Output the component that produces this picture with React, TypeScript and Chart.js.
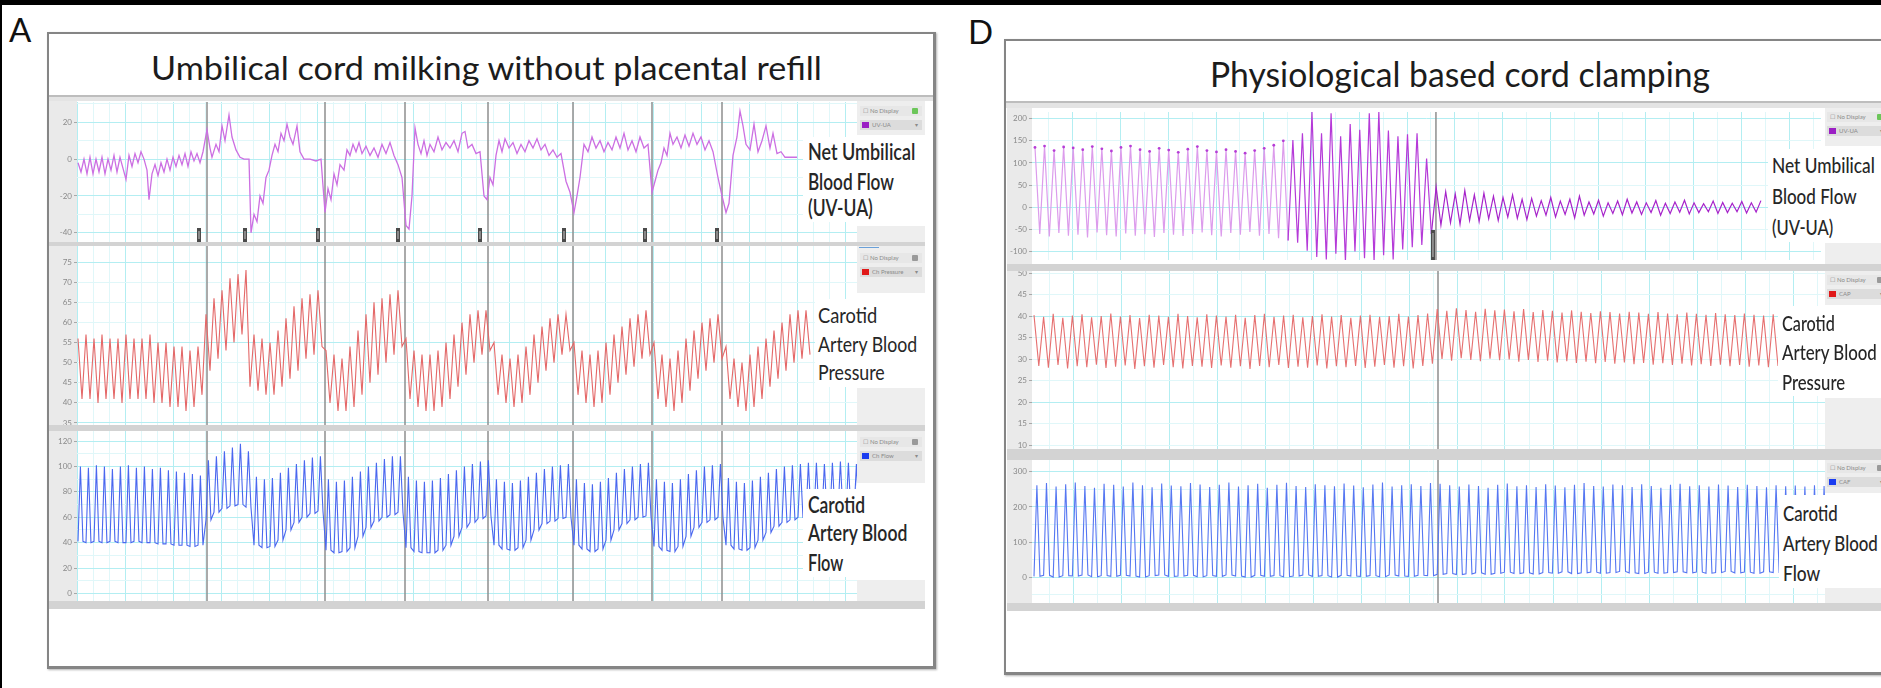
import React, { useEffect, useLayoutEffect, useRef } from "react";
import { Chart, registerables } from "chart.js";

Chart.register(...registerables);

const FONT = "Lato, 'Open Sans', 'Noto Sans', 'DejaVu Sans', sans-serif";

/* ================= Panel A : Umbilical cord milking without placental refill ================= */
// time axis in samples (16 samples = 1 s)
const spanA = 780;
const gridStepA = 16;
const beatStartA = 1;
const beatLenA = 8;

const uvuaTimesA = [
  1, 4, 7, 10, 13, 16, 19, 22, 25, 28, 31, 34, 37, 40, 43, 46, 49, 52, 55, 58,
  61, 64, 67, 70, 72, 75, 78, 81, 84, 87, 90, 93, 96, 99, 102, 105, 108, 111, 114, 117,
  120, 123, 126, 130, 133, 135, 139, 142, 145, 148, 152, 155, 159, 163, 167, 172, 174, 177, 180, 183,
  186, 189, 192, 195, 198, 201, 204, 207, 210, 213, 216, 220, 223, 227, 233, 239, 244, 248, 251, 254,
  257, 260, 263, 267, 270, 273, 276, 279, 282, 285, 289, 293, 297, 301, 305, 309, 313, 317, 321, 325,
  329, 332, 335, 338, 341, 344, 347, 350, 353, 357, 361, 365, 369, 373, 377, 381, 385, 388, 391, 395,
  399, 403, 407, 410, 413, 416, 419, 422, 425, 428, 432, 436, 440, 444, 448, 452, 456, 460, 464, 468,
  472, 476, 480, 484, 489, 493, 497, 500, 503, 507, 511, 515, 519, 523, 527, 531, 535, 539, 543, 547,
  551, 555, 559, 563, 567, 571, 575, 578, 581, 584, 587, 590, 593, 596, 600, 604, 608, 612, 616, 620,
  624, 628, 632, 636, 641, 645, 649, 652, 656, 660, 663, 666, 669, 673, 677, 681, 685, 689, 693, 696,
  700, 704, 708, 713, 720,
];
const uvuaValuesA = [
  -2, -7, 0, -8, 1, -8, 0, -7, 1, -8, 0, -6, 2, -7, 1, -5, -11, 2, -4, 3,
  -2, 4, 0, -6, -22, -8, -3, -9, -2, -7, 0, -6, 1, -4, 2, -3, 3, -4, 4, -1,
  3, -2, 4, 16, 6, 1, 8, 4, 18, 10, 24, 12, 5, 1, 0, 0, -40, -30, -34, -20,
  -24, -10, -6, 2, 8, 4, 14, 10, 19, 12, 8, 18, 4, 0, 0, -1, 0, -29, -16, -22,
  -8, -14, -3, -6, 5, 2, 8, 4, 9, 3, 7, 2, 6, 1, 8, 3, 9, 2, -3, -10,
  -36, -38, -20, 17, 8, 3, 10, 2, 8, 4, 12, 5, 9, 6, 10, 4, 14, 15, 6, 8,
  3, 4, -20, -22, -10, -14, 2, 10, 4, 11, 6, 9, 3, 8, 4, 10, 6, 11, 5, 8,
  2, 5, 1, 3, -12, -18, -29, -20, -10, 8, 4, 12, 6, 10, 4, 9, 5, 12, 6, 14,
  5, 10, 4, 12, 6, 8, -18, -12, -6, -2, 6, 2, 14, 8, 12, 6, 13, 7, 14, 8,
  12, 5, 10, 4, -10, -20, -29, -24, 2, 12, 26, 18, 8, 5, 19, 4, 10, 18, 6, 14,
  3, 4, 1, 1, 1,
];

const bpPeaksA = [
  56, 57, 56, 57, 56, 56, 57, 56, 56, 57, 55, 55, 54, 54, 53, 54,
  62, 66, 68, 71, 72, 73,
  57, 56, 55, 58, 61, 64, 66, 67, 68,
  53, 52, 51, 54, 58, 62, 65, 66, 67, 68,
  56, 53, 52, 52, 53, 55, 57, 60, 62, 63, 63,
  55, 52, 51, 52, 54, 57, 59, 61, 62, 62,
  55, 53, 52, 53, 55, 57, 59, 61, 62, 63,
  55, 52, 51, 53, 56, 58, 60, 61, 62,
  54, 51, 50, 52, 54, 56, 58, 60, 62, 63, 63,
];
const bpTroughsA = [
  41, 41, 40, 41, 41, 40, 41, 41, 41, 40, 40, 39, 39, 38, 39, 42,
  48, 51, 53, 55, 57, 44,
  43, 42, 42, 44, 46, 48, 51, 52, 54,
  40, 38, 38, 39, 42, 45, 47, 50, 52, 54,
  41, 39, 38, 38, 39, 41, 44, 47, 50, 52, 53,
  42, 40, 39, 40, 42, 45, 48, 50, 52, 53,
  42, 40, 39, 40, 42, 45, 47, 49, 51, 52,
  41, 39, 38, 40, 43, 46, 48, 50, 51,
  41, 39, 38, 39, 41, 44, 46, 48, 50, 51, 52,
];

const flowPeaksA = [
  100, 99, 101, 100, 98, 100, 101, 99, 100, 98, 99, 97, 96, 95, 94, 93,
  105, 108, 112, 115, 118, 112,
  92, 90, 91, 95, 99, 102, 105, 107, 108,
  90, 88, 89, 92, 96, 100, 103, 106, 108, 108,
  92, 89, 88, 89, 91, 94, 97, 100, 102, 104, 105,
  90, 88, 87, 89, 92, 95, 98, 100, 101, 102,
  90, 87, 86, 88, 91, 95, 98, 100, 102, 103,
  90, 88, 87, 90, 94, 97, 100, 101, 102,
  91, 88, 87, 89, 92, 95, 98, 100, 101, 102, 103, 103, 102, 103, 104, 103, 102,
];
const flowTroughsA = [
  41, 40, 41, 40, 41, 40, 40, 41, 40, 40, 39, 39, 38, 38, 37, 38,
  58, 64, 67, 69, 70, 68,
  38, 36, 37, 42, 50, 56, 60, 63, 65,
  34, 32, 33, 36, 45, 52, 57, 60, 62, 64,
  36, 33, 32, 32, 34, 38, 45, 52, 56, 59, 61,
  38, 35, 34, 36, 42, 50, 55, 57, 59, 60,
  38, 35, 33, 35, 42, 50, 55, 58, 60, 61,
  37, 34, 33, 37, 45, 52, 56, 58, 60,
  38, 35, 34, 36, 42, 48, 53, 56, 58, 60, 61, 62, 62, 63, 63, 62, 62,
];

const eventTimesA = [130, 248, 328, 411, 496, 575, 645];
const commentTimesA = [122, 168, 241, 321, 403, 487, 568, 640];

const uvuaTicksA = [20, 0, -20, -40];
const uvuaGridA = [-40, -30, -20, -10, 0, 10, 20, 30];
const bpTicksA = [75, 70, 65, 60, 55, 50, 45, 40, 35];
const bpMajorA = [75, 55, 35];
const flowTicksA = [120, 100, 80, 60, 40, 20, 0];
const flowGridA = [0, 10, 20, 30, 40, 50, 60, 70, 80, 90, 100, 110, 120];

/* ================= Panel D : Physiological based cord clamping ================= */
// time axis in samples (24 samples = 1 s)
const spanD = 793;
const gridStartD = 17;
const gridStepD = 24;
const beatStartD = 2;
const beatLenD = 9.6;
const uvuaStartD = 3;

const uvuaPreD = [
  135, -60, 138, -66, 128, -58, 136, -64, 134, -62, 130, -68, 137, -57, 132, -63, 127, -66,
  135, -59, 138, -64, 130, -61, 126, -67, 133, -58, 129, -62, 124, -65, 131, -60, 137, -57,
  128, -63, 125, -66, 130, -58, 126, -62, 122, -56, 128, -64, 133, -60, 140, -70, 150, -75,
];
const uvuaBurstD = [
  152, -80, 167, -98, 215, -112, 167, -118, 212, -105, 160, -122, 188, -100, 175, -115,
  212, -122, 215, -108, 173, -118, 160, -95, 165, -90, 167, -85, 110, -60,
];
const uvuaPostD = [
  45, -40, 35, -35, 30, -38, 38, -30, 28, -32, 32, -26, 25, -30, 22, -22, 28, -25, 18, -28,
  20, -20, 15, -18, 22, -22, 14, -16, 18, -24, 25, -18, 12, -15, 16, -20, 10, -14, 14, -17,
  18, -13, 12, -16, 10, -12, 15, -18, 9, -14, 12, -11, 16, -15, 10, -12, 8, -10, 14, -14,
  11, -12, 9, -10, 13, -13, 10, -11, 15,
];

const bpPeaksD = [
  40.2, 39.8, 40.5, 39.6, 40.1, 40.4, 39.7, 40.0, 40.6, 39.9, 40.2, 39.5, 40.3, 40.1, 39.8,
  40.5, 40.0, 39.7, 40.4, 40.1, 39.9, 40.3, 39.6, 40.2, 40.5, 39.8, 40.1, 40.3, 39.7, 40.0,
  40.4, 39.9, 40.2, 39.6, 40.1, 40.3, 39.8, 40.0, 40.5, 39.9, 40.2, 40.6,
  41.6, 41.2, 41.8, 41.4, 41.0, 41.7, 41.3, 41.5, 41.1, 41.6, 40.9, 41.4, 41.2, 40.8, 41.3,
  41.0, 40.7, 41.1, 40.9, 40.6, 41.0, 40.8, 40.5, 40.9, 40.6, 40.4, 40.8, 40.5, 40.3, 40.7,
  40.4, 40.2, 40.6, 40.3, 40.1, 40.4,
];
const bpTroughsD = [
  28.4, 28.0, 28.6, 27.8, 28.3, 28.1, 28.7, 27.9, 28.2, 28.5, 27.7, 28.3, 28.0, 28.6, 28.1,
  27.8, 28.4, 28.2, 27.9, 28.5, 28.0, 28.3, 27.7, 28.4, 28.1, 28.6, 27.9, 28.2, 28.0, 28.5,
  27.8, 28.3, 28.1, 28.4, 27.9, 28.2, 28.6, 28.0, 28.3, 27.8, 28.4, 28.9,
  30.0, 29.6, 30.2, 29.8, 29.5, 30.1, 29.7, 29.9, 29.4, 29.8, 29.3, 29.6, 29.2, 29.5, 29.1,
  29.4, 29.0, 29.3, 28.9, 29.2, 28.8, 29.1, 28.7, 29.0, 28.6, 28.9, 28.5, 28.8, 28.4, 28.7,
  28.3, 28.6, 28.2, 28.5, 28.1, 28.4,
];

const flowPeaksD = [
  262, 268, 258, 265, 270, 260, 255, 266, 263, 258, 270, 262, 256, 267, 261, 259, 268, 264, 257, 263,
  270, 258, 262, 266, 255, 263, 269, 260, 257, 265, 262, 259, 267, 261, 256, 264, 270, 258, 262, 265,
  260, 268,
  266, 262, 258, 264, 260, 255, 263, 267, 259, 262, 257, 265, 261, 256, 263, 268, 260, 258, 264, 262,
  257, 265, 260, 255, 263, 266, 259, 262, 258, 264, 261, 257, 263, 260, 256, 262, 259, 261, 258, 262,
  260,
];
const flowTroughsD = [
  2, 5, 0, 4, 3, 6, 1, 4, 2, 5, 3, 0, 4, 6, 2, 3, 5, 1, 4, 2,
  6, 3, 0, 5, 2, 4, 1, 3, 6, 2, 4, 0, 5, 3, 2, 4, 1, 6, 3, 2,
  5, 4,
  8, 10, 7, 9, 12, 8, 11, 14, 10, 12, 9, 13, 11, 15, 10, 12, 14, 11, 13, 16,
  12, 10, 14, 11, 13, 15, 12, 14, 11, 13, 16, 12, 14, 11, 15, 13, 12, 14, 11, 13,
  12,
];

const eventTimesD = [406];
const commentTimesD = [403];

const uvuaTicksD = [200, 150, 100, 50, 0, -50, -100];
const uvuaMajorD = [200, 100, 0, -100];
const bpTicksD = [50, 45, 40, 35, 30, 25, 20, 15, 10];
const bpMajorD = [40, 20];
const flowTicksD = [300, 200, 100, 0];
const flowGridD = [-50, 0, 50, 100, 150, 200, 250, 300];

/* ================= helpers ================= */
type Pt = { x: number; y: number };
const zigzag = (peaks: number[], troughs: number[], start: number, beat: number): Pt[] =>
  peaks.flatMap((p, i) => [
    { x: start + i * beat, y: p },
    { x: start + i * beat + beat / 2, y: troughs[i] },
  ]);
const spikes = (peaks: number[], troughs: number[], start: number, beat: number): Pt[] =>
  peaks.flatMap((p, i) => [
    { x: start + i * beat, y: troughs[i] },
    { x: start + i * beat + beat * 0.3, y: p },
    { x: start + i * beat + beat * 0.62, y: troughs[i] },
  ]);
const sampled = (values: number[], start: number, step: number): Pt[] =>
  values.map((v, i) => ({ x: start + i * step, y: v }));
const paired = (ts: number[], vs: number[]): Pt[] => ts.map((t, i) => ({ x: t, y: vs[i] }));

const MINOR = "#e0f7f9";
const MAJOR = "#b3eef2";

type TraceCfg = {
  left: number; top: number; width: number; height: number; axisW: number;
  span: number; gridStart: number; gridStep: number; majorEvery: number; majorPhase: number;
  yMin: number; yMax: number; yGrid: number[]; yLabels: number[]; yMajor: number[];
  datasets: any[]; events: number[]; comments?: number[]; commentLen?: number;
};

function Trace({ cfg }: { cfg: TraceCfg }) {
  const ref = useRef<HTMLCanvasElement>(null);
  useEffect(() => {
    const c = cfg;
    const isMajorX = (v: number) =>
      Math.round((v - c.gridStart) / c.gridStep) % c.majorEvery === c.majorPhase;
    const eventPlugin = {
      id: "labEvents",
      beforeDatasetsDraw(chart: any) {
        const { ctx, chartArea: a, scales } = chart;
        ctx.save();
        ctx.strokeStyle = "#8e8e8e";
        ctx.lineWidth = 1.5;
        for (const t of c.events) {
          const x = scales.x.getPixelForValue(t);
          ctx.beginPath();
          ctx.moveTo(x, a.top);
          ctx.lineTo(x, a.bottom);
          ctx.stroke();
        }
        ctx.restore();
      },
      afterDatasetsDraw(chart: any) {
        if (!c.comments) return;
        const { ctx, chartArea: a, scales } = chart;
        const len = c.commentLen || 12;
        ctx.save();
        for (const t of c.comments) {
          const x = scales.x.getPixelForValue(t);
          ctx.fillStyle = "#4b4b4b";
          ctx.fillRect(x - 2, a.bottom - len, 4, len);
          ctx.fillStyle = "#c8c8c8";
          ctx.fillRect(x - 0.5, a.bottom - len + 3, 1, len - 6);
        }
        ctx.restore();
      },
    };
    const chart = new Chart(ref.current as HTMLCanvasElement, {
      type: "line",
      data: { datasets: c.datasets },
      options: {
        animation: false,
        responsive: false,
        devicePixelRatio: 1,
        events: [],
        layout: { padding: 0 },
        plugins: { legend: { display: false }, tooltip: { enabled: false }, title: { display: false } },
        elements: { point: { radius: 0 }, line: { tension: 0, borderWidth: 1.2 } },
        scales: {
          x: {
            type: "linear",
            min: 0,
            max: c.span,
            afterBuildTicks: (axis: any) => {
              const t: any[] = [];
              for (let v = c.gridStart; v <= c.span; v += c.gridStep) t.push({ value: v });
              axis.ticks = t;
            },
            afterFit: (axis: any) => {
              axis.height = 0;
              axis.paddingLeft = 0;
              axis.paddingRight = 0;
            },
            ticks: { display: false },
            grid: {
              drawTicks: false,
              color: (ctx: any) => (ctx.tick && isMajorX(ctx.tick.value) ? MAJOR : MINOR),
              lineWidth: 1,
            },
            border: { display: false },
          },
          y: {
            type: "linear",
            min: c.yMin,
            max: c.yMax,
            afterBuildTicks: (axis: any) => {
              axis.ticks = c.yGrid.map((v) => ({ value: v }));
            },
            afterFit: (axis: any) => {
              axis.width = c.axisW;
              axis.paddingTop = 0;
              axis.paddingBottom = 0;
            },
            ticks: {
              autoSkip: false,
              maxRotation: 0,
              padding: 2,
              color: "#8a8a8a",
              font: { size: 8, family: FONT },
              callback: (v: any) => (c.yLabels.includes(Number(v)) ? String(v) : ""),
            },
            grid: {
              drawTicks: true,
              tickLength: 3,
              tickColor: (ctx: any) =>
                ctx.tick && c.yLabels.includes(ctx.tick.value) ? "#a8a8a8" : "rgba(0,0,0,0)",
              color: (ctx: any) => (ctx.tick && c.yMajor.includes(ctx.tick.value) ? MAJOR : MINOR),
              lineWidth: 1,
            },
            border: { display: false },
          },
        },
      } as any,
      plugins: [eventPlugin],
    });
    return () => chart.destroy();
  }, []);
  return (
    <canvas
      ref={ref}
      width={cfg.width}
      height={cfg.height}
      style={{ position: "absolute", left: cfg.left, top: cfg.top, width: cfg.width, height: cfg.height }}
    />
  );
}

function FitText({ text, x, cy, w, size, weight = 400, color = "#1f1f1f" }: any) {
  const ref = useRef<HTMLSpanElement>(null);
  useLayoutEffect(() => {
    const el = ref.current;
    if (!el) return;
    const natural = el.offsetWidth;
    if (natural > 0) el.style.transform = `translateY(-50%) scaleX(${w / natural})`;
  }, [w]);
  return (
    <span
      ref={ref}
      style={{
        position: "absolute",
        left: x,
        top: cy,
        fontFamily: FONT,
        fontSize: size,
        fontWeight: weight,
        lineHeight: 1,
        whiteSpace: "nowrap",
        color,
        transformOrigin: "0 50%",
        transform: "translateY(-50%)",
      }}
    >
      {text}
    </span>
  );
}

const Rect = ({ x, y, w, h, bg, style }: any) => (
  <div style={{ position: "absolute", left: x, top: y, width: w, height: h, background: bg, ...style }} />
);

function LegendRows({ x, y, w, color, name, first = "#9a9a9a" }: any) {
  const row: any = {
    position: "absolute",
    left: x,
    width: w,
    height: 10,
    fontFamily: FONT,
    fontSize: 6,
    lineHeight: "10px",
    color: "#8a8a8a",
    whiteSpace: "nowrap",
    overflow: "hidden",
  };
  return (
    <>
      <div style={{ ...row, top: y, background: "#e7e7e7" }}>
        <span style={{ marginLeft: 3 }}>☐ No Display</span>
        <span style={{ position: "absolute", right: 4, top: 2, width: 6, height: 6, background: first, borderRadius: 1 }} />
      </div>
      <div style={{ ...row, top: y + 14, background: "#dcdcdc" }}>
        <span style={{ display: "inline-block", width: 7, height: 6, background: color, marginLeft: 2, verticalAlign: "-1px" }} />
        <span style={{ marginLeft: 3 }}>{name}</span>
        <span style={{ position: "absolute", right: 4 }}>▾</span>
      </div>
    </>
  );
}

function LabelBox({ x, y, w, h, lines, weight }: any) {
  return (
    <>
      <Rect x={x} y={y} w={w} h={h} bg="#ffffff" />
      {lines.map((l: any) => (
        <FitText key={l.t} text={l.t} x={l.x} cy={l.cy} w={l.w} size={22} weight={weight} color="#262626" />
      ))}
    </>
  );
}

export default function App() {
  const base = { axisW: 28, span: spanA, gridStart: 0, gridStep: gridStepA, majorEvery: 3, majorPhase: 0 };
  const topA: TraceCfg = {
    ...base, left: 49, top: 102, width: 808, height: 140,
    yMin: -45, yMax: 31, yGrid: uvuaGridA, yLabels: uvuaTicksA, yMajor: uvuaTicksA,
    datasets: [{ data: paired(uvuaTimesA, uvuaValuesA), borderColor: "#cc6fe2", borderWidth: 1.3, parsing: false }],
    events: eventTimesA, comments: commentTimesA, commentLen: 14,
  };
  const midA: TraceCfg = {
    ...base, left: 49, top: 246, width: 808, height: 179,
    yMin: 34.5, yMax: 79, yGrid: bpTicksA, yLabels: bpTicksA, yMajor: bpMajorA,
    datasets: [{ data: zigzag(bpPeaksA, bpTroughsA, beatStartA, beatLenA), borderColor: "#e46868", borderWidth: 1.1, parsing: false }],
    events: eventTimesA,
  };
  const botA: TraceCfg = {
    ...base, left: 49, top: 431, width: 808, height: 170,
    yMin: -6, yMax: 128, yGrid: flowGridA, yLabels: flowTicksA, yMajor: flowTicksA,
    datasets: [{ data: spikes(flowPeaksA, flowTroughsA, beatStartA, beatLenA), borderColor: "#4a67ef", borderWidth: 1.1, parsing: false }],
    events: eventTimesA,
  };

  const baseD = { axisW: 25, span: spanD, gridStart: gridStartD, gridStep: gridStepD, majorEvery: 2, majorPhase: 1 };
  const preN = uvuaPreD.length;
  const burstN = uvuaBurstD.length;
  const topD: TraceCfg = {
    ...baseD, left: 1007, top: 108, width: 818, height: 156,
    yMin: -119, yMax: 215, yGrid: uvuaTicksD, yLabels: uvuaTicksD, yMajor: uvuaMajorD,
    datasets: [{
      data: sampled([...uvuaPreD, ...uvuaBurstD, ...uvuaPostD], uvuaStartD, beatLenD / 2),
      borderColor: "#a823cb",
      borderWidth: 1.2,
      parsing: false,
      segment: {
        borderColor: (ctx: any) =>
          ctx.p0DataIndex < preN - 1 ? "#dc9cec" : ctx.p0DataIndex < preN + burstN - 1 ? "#b53ad8" : "#a623ca",
      },
      pointRadius: (ctx: any) => (ctx.dataIndex < preN && ctx.dataIndex % 2 === 0 ? 1.4 : 0),
      pointBackgroundColor: "#b63dd6",
      pointBorderWidth: 0,
    }],
    events: eventTimesD, comments: commentTimesD, commentLen: 30,
  };
  const midD: TraceCfg = {
    ...baseD, left: 1007, top: 271, width: 818, height: 178,
    yMin: 9.07, yMax: 50.47, yGrid: bpTicksD, yLabels: bpTicksD, yMajor: bpMajorD,
    datasets: [{ data: zigzag(bpPeaksD, bpTroughsD, beatStartD, beatLenD), borderColor: "#e67070", borderWidth: 1.1, parsing: false }],
    events: eventTimesD,
  };
  const botD: TraceCfg = {
    ...baseD, left: 1007, top: 460, width: 818, height: 143,
    yMin: -74, yMax: 334, yGrid: flowGridD, yLabels: flowTicksD, yMajor: flowTicksD,
    datasets: [{ data: spikes(flowPeaksD, flowTroughsD, beatStartD, beatLenD), borderColor: "#5677f2", borderWidth: 1.1, parsing: false }],
    events: eventTimesD,
  };

  const SEP = "#d3d3d3";
  const GRAYBOX = "#eeeeee";
  const boxStyle = {
    border: "2px solid #858585",
    borderRightWidth: 3,
    borderBottomWidth: 3,
    boxSizing: "border-box",
    boxShadow: "1px 1px 2px rgba(0,0,0,0.3)",
  };

  return (
    <div
      style={{
        position: "fixed",
        left: 0,
        top: 0,
        width: 1881,
        height: 688,
        background: "#ffffff",
        overflow: "hidden",
        fontFamily: FONT,
        filter: "blur(0.5px)",
      }}
    >
      <Rect x={0} y={0} w={1881} h={5} bg="#000" />
      <Rect x={0} y={0} w={2} h={688} bg="#000" />

      {/* ---------- Panel A ---------- */}
      <div style={{ position: "absolute", left: 9, top: 13, fontSize: 33, lineHeight: 1, color: "#111", fontFamily: FONT }}>A</div>
      <Rect x={47} y={32} w={889} h={637} bg="#fff" style={boxStyle} />
      <FitText text="Umbilical cord milking without placental refill" x={151} cy={68} w={671} size={32} color="#1c1c1c" />
      <Rect x={49} y={95} w={884} h={2} bg="#bdbdbd" />
      <Rect x={49} y={97} w={884} h={4} bg="#e4e4e4" />
      <Rect x={49} y={101} w={28} h={508} bg="#eaeaea" />
      <Trace cfg={topA} />
      <Trace cfg={midA} />
      <Trace cfg={botA} />
      <Rect x={49} y={242} w={876} h={4} bg={SEP} />
      <Rect x={49} y={425} w={876} h={6} bg={SEP} />
      <Rect x={49} y={601} w={876} h={8} bg={SEP} />

      <Rect x={857} y={101} w={68} h={34} bg={GRAYBOX} />
      <LegendRows x={860} y={106} w={62} color="#9b1fc4" name="UV-UA" first="#6cc65a" />
      <Rect x={857} y={226} w={68} h={16} bg={GRAYBOX} />
      <Rect x={857} y={246} w={68} h={47} bg={GRAYBOX} />
      <Rect x={859} y={247} w={20} h={1} bg="#6aa0d8" />
      <LegendRows x={860} y={253} w={62} color="#e01818" name="Ch Pressure" />
      <Rect x={857} y={388} w={68} h={37} bg={GRAYBOX} />
      <Rect x={857} y={431} w={68} h={52} bg={GRAYBOX} />
      <LegendRows x={860} y={437} w={62} color="#1a3cf0" name="Ch Flow" />
      <Rect x={857} y={580} w={68} h={21} bg={GRAYBOX} />

      <LabelBox
        x={803} y={137} w={122} h={85} weight={600}
        lines={[
          { t: "Net Umbilical", x: 808, cy: 152, w: 107 },
          { t: "Blood Flow", x: 808, cy: 182, w: 86 },
          { t: "(UV-UA)", x: 808, cy: 208, w: 65 },
        ]}
      />
      <LabelBox
        x={815} y={299} w={110} h={88} weight={400}
        lines={[
          { t: "Carotid", x: 818, cy: 315, w: 59 },
          { t: "Artery Blood", x: 818, cy: 344, w: 99 },
          { t: "Pressure", x: 818, cy: 372, w: 67 },
        ]}
      />
      <LabelBox
        x={803} y={489} w={122} h={88} weight={600}
        lines={[
          { t: "Carotid", x: 808, cy: 505, w: 57 },
          { t: "Artery Blood", x: 808, cy: 533, w: 99 },
          { t: "Flow", x: 808, cy: 563, w: 35 },
        ]}
      />

      {/* ---------- Panel D ---------- */}
      <div style={{ position: "absolute", left: 968, top: 15, fontSize: 33, lineHeight: 1, color: "#111", fontFamily: FONT }}>D</div>
      <Rect x={1004} y={39} w={900} h={636} bg="#fff" style={boxStyle} />
      <FitText text="Physiological based cord clamping" x={1210} cy={73} w={500} size={35} color="#1c1c1c" />
      <Rect x={1006} y={101} w={875} h={2} bg="#bdbdbd" />
      <Rect x={1006} y={103} w={875} h={5} bg="#e4e4e4" />
      <Rect x={1007} y={108} w={25} h={503} bg="#eaeaea" />
      <Trace cfg={topD} />
      <Trace cfg={midD} />
      <Trace cfg={botD} />
      <Rect x={1007} y={264} w={874} h={7} bg={SEP} />
      <Rect x={1007} y={449} w={874} h={11} bg={SEP} />
      <Rect x={1007} y={603} w={874} h={8} bg={SEP} />

      <Rect x={1825} y={108} w={56} h={38} bg={GRAYBOX} />
      <LegendRows x={1827} y={112} w={60} color="#9b1fc4" name="UV-UA" first="#6cc65a" />
      <Rect x={1825} y={243} w={56} h={21} bg={GRAYBOX} />
      <Rect x={1825} y={271} w={56} h={34} bg={GRAYBOX} />
      <LegendRows x={1827} y={275} w={60} color="#e01818" name="CAP" />
      <Rect x={1825} y={398} w={56} h={51} bg={GRAYBOX} />
      <Rect x={1825} y={460} w={56} h={33} bg={GRAYBOX} />
      <LegendRows x={1827} y={463} w={60} color="#1a3cf0" name="CAF" />
      <Rect x={1825} y={588} w={56} h={15} bg={GRAYBOX} />

      <LabelBox
        x={1768} y={149} w={113} h={93} weight={500}
        lines={[
          { t: "Net Umbilical", x: 1772, cy: 165, w: 103 },
          { t: "Blood Flow", x: 1772, cy: 196, w: 85 },
          { t: "(UV-UA)", x: 1772, cy: 227, w: 61 },
        ]}
      />
      <LabelBox
        x={1778} y={306} w={103} h={90} weight={500}
        lines={[
          { t: "Carotid", x: 1782, cy: 323, w: 53 },
          { t: "Artery Blood", x: 1782, cy: 352, w: 95 },
          { t: "Pressure", x: 1782, cy: 382, w: 63 },
        ]}
      />
      <LabelBox
        x={1779} y={495} w={102} h={93} weight={500}
        lines={[
          { t: "Carotid", x: 1783, cy: 513, w: 55 },
          { t: "Artery Blood", x: 1783, cy: 543, w: 95 },
          { t: "Flow", x: 1783, cy: 573, w: 37 },
        ]}
      />
    </div>
  );
}
